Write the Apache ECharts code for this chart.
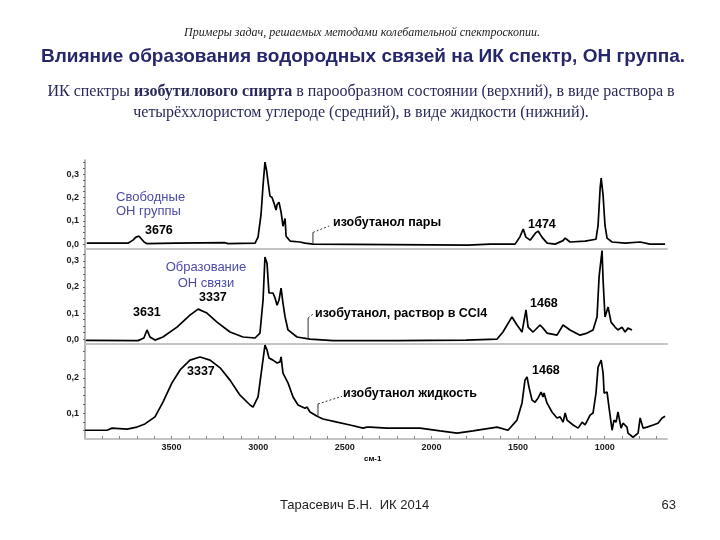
<!DOCTYPE html>
<html><head><meta charset="utf-8">
<script src="https://cdn.jsdelivr.net/npm/echarts@6/dist/echarts.min.js"></script>
<style>html,body{margin:0;padding:0;background:#fff}#c{width:720px;height:540px}</style>
</head><body><div id="c"></div>
<script>
// ---- data: [wavenumber cm-1, absorbance] ----
const vapourSpectrum = [[3990,0.004],[3752,0.004],[3723,0.017],[3706,0.03],[3688,0.034],[3677,0.026],[3659,0.009],[3642,0.002],[3480,0.004],[3192,0.006],[3174,0.002],[3018,0.004],[3001,0.03],[2984,0.125],[2972,0.253],[2961,0.352],[2952,0.318],[2943,0.266],[2932,0.206],[2920,0.2],[2909,0.176],[2897,0.146],[2891,0.17],[2880,0.18],[2868,0.137],[2857,0.077],[2845,0.11],[2839,0.034],[2816,0.013],[2759,0.009],[2730,0.004],[2684,0.0],[1789,-0.004],[1662,0.0],[1517,0.0],[1490,0.03],[1470,0.065],[1455,0.03],[1430,0.017],[1400,0.047],[1384,0.056],[1362,0.03],[1332,0.004],[1286,0.0],[1240,0.015],[1228,0.026],[1200,0.009],[1113,0.013],[1050,0.021],[1038,0.08],[1026,0.24],[1020,0.283],[1009,0.21],[998,0.08],[986,0.026],[957,0.009],[882,0.004],[795,0.009],[738,0.0],[651,0.0]];
const solutionSpectrum = [[3995,-0.005],[3694,-0.006],[3660,0.004],[3642,0.035],[3625,0.008],[3596,-0.004],[3550,0.008],[3469,0.046],[3394,0.092],[3347,0.115],[3296,0.1],[3238,0.065],[3163,0.027],[3088,0.008],[3018,0.004],[2990,0.023],[2972,0.15],[2961,0.315],[2949,0.29],[2938,0.177],[2915,0.177],[2903,0.158],[2891,0.13],[2880,0.15],[2868,0.196],[2857,0.138],[2845,0.085],[2828,0.035],[2776,0.008],[2701,0.0],[2568,-0.006],[2200,-0.006],[1800,-0.004],[1621,0.0],[1587,0.027],[1535,0.085],[1506,0.054],[1477,0.027],[1454,0.112],[1442,0.046],[1413,0.027],[1373,0.054],[1356,0.042],[1333,0.023],[1275,0.015],[1240,0.054],[1200,0.035],[1142,0.015],[1101,0.023],[1067,0.035],[1044,0.085],[1032,0.24],[1015,0.34],[1009,0.227],[998,0.085],[980,0.123],[963,0.065],[940,0.046],[923,0.035],[900,0.046],[882,0.027],[865,0.042],[842,0.035]];
const liquidSpectrum = [[4000,0.051],[3873,0.051],[3844,0.057],[3757,0.054],[3700,0.06],[3654,0.069],[3596,0.089],[3550,0.131],[3498,0.186],[3451,0.223],[3394,0.251],[3336,0.26],[3278,0.251],[3220,0.229],[3163,0.194],[3105,0.151],[3047,0.123],[3030,0.117],[3001,0.146],[2978,0.231],[2961,0.294],[2949,0.28],[2938,0.257],[2915,0.251],[2891,0.243],[2874,0.246],[2868,0.26],[2857,0.214],[2828,0.186],[2799,0.146],[2770,0.123],[2730,0.114],[2718,0.117],[2701,0.103],[2660,0.091],[2626,0.083],[2545,0.074],[2470,0.066],[2395,0.057],[2372,0.06],[2354,0.06],[2256,0.057],[2066,0.057],[2055,0.06],[1950,0.049],[1852,0.043],[1760,0.049],[1621,0.06],[1558,0.051],[1506,0.08],[1477,0.129],[1460,0.194],[1448,0.203],[1437,0.174],[1419,0.137],[1402,0.131],[1384,0.143],[1367,0.16],[1356,0.146],[1350,0.157],[1333,0.129],[1304,0.103],[1275,0.086],[1257,0.089],[1240,0.074],[1228,0.1],[1217,0.08],[1182,0.066],[1153,0.057],[1130,0.074],[1113,0.066],[1084,0.094],[1067,0.1],[1050,0.157],[1038,0.231],[1020,0.251],[1009,0.214],[1003,0.157],[986,0.16],[975,0.117],[957,0.051],[946,0.08],[934,0.074],[923,0.103],[905,0.057],[894,0.071],[871,0.06],[865,0.043],[836,0.031],[807,0.043],[795,0.086],[778,0.057],[755,0.06],[720,0.066],[692,0.071],[668,0.086],[651,0.091]];

// leader lines from the text labels to the spectra
const vapourLeader = [[2684,0.0],[2684,0.05]];
const vapourLeaderDots = [[2684,0.05],[2590,0.078]];
const solutionLeader = [[2712,0.0],[2712,0.081]];
const solutionLeaderDots = [[2712,0.081],[2680,0.098]];
const liquidLeader = [[2655,0.09],[2655,0.126]];
const liquidLeaderDots = [[2655,0.126],[2515,0.148]];

// tick labels
const wavenumberTicks = [3500,3000,2500,2000,1500,1000];
const topAbsTicks = [0,0.1,0.2,0.3];
const midAbsTicks = [0,0.1,0.2,0.3];
const lowAbsTicks = [0.1,0.2];

const minorX = [];
for (let v = 700; v <= 3900; v += 100) minorX.push(v);

const fmt = v => v.toFixed(1).replace('.', ',');
function yAxisFor(grid, min, max, labels) {
  const minor = [];
  for (let v = Math.ceil(min/0.025)*0.025; v <= max+1e-9; v += 0.025) minor.push(+v.toFixed(3));
  return {gridIndex:grid, type:'value', min:min, max:max,
    axisLine:{show:true, onZero:false, lineStyle:{color:'#9a9a9a', width:1.5}},
    axisTick:{show:true, customValues:minor, length:2, lineStyle:{color:'#666'}},
    axisLabel:{customValues:labels, formatter:fmt, fontSize:9, fontWeight:'bold', color:'#1a1a1a', margin:6, fontFamily:'Liberation Sans'},
    splitLine:{show:false}};
}
function xAxisFor(grid, showLabels) {
  return {gridIndex:grid, type:'value', inverse:true, min:640, max:4000,
    axisLine:{show:true, onZero:false, lineStyle:{color:'#c4c4c4', width:2}},
    axisTick:{show:showLabels, inside:true, customValues:minorX, length:3, lineStyle:{color:'#888'}},
    axisLabel:{show:showLabels, customValues:wavenumberTicks, formatter:v => String(v), fontSize:9, fontWeight:'bold', color:'#1a1a1a', margin:4, fontFamily:'Liberation Sans'},
    splitLine:{show:false}};
}
function spec(i, data) {
  return {type:'line', xAxisIndex:i, yAxisIndex:i, data:data, symbol:'none', silent:true,
    lineStyle:{color:'#000', width:1.7}, animation:false};
}
function leader(i, data, dotted) {
  return {type:'line', xAxisIndex:i, yAxisIndex:i, data:data, symbol:'none', silent:true, clip:false,
    lineStyle:{color:'#333', width:1, type: dotted ? [2,2] : 'solid'}, animation:false};
}
function txt(x, y, text, font, fill, align) {
  return {type:'text', x:x, y:y, silent:true,
    style:{text:text, font:font, fill:fill || '#000', textAlign:align || 'left', textVerticalAlign:'middle'}};
}

const chart = echarts.init(document.getElementById('c'));
const blue = '#4b4ba8';
const navy = '#26266a';
const lbl = 'bold 12.5px "Liberation Sans"';
chart.setOption({
  backgroundColor:'#fff',
  animation:false,
  grid:[
    {left:85, right:53, top:160, height:89},
    {left:85, right:53, top:249, height:95},
    {left:85, right:53, top:344, height:95}
  ],
  xAxis:[xAxisFor(0,false), xAxisFor(1,false), xAxisFor(2,true)],
  yAxis:[yAxisFor(0,-0.021,0.361,topAbsTicks), yAxisFor(1,-0.019,0.346,midAbsTicks), yAxisFor(2,0.026,0.297,lowAbsTicks)],
  series:[
    spec(0, vapourSpectrum), spec(1, solutionSpectrum), spec(2, liquidSpectrum),
    leader(0, vapourLeader, false), leader(0, vapourLeaderDots, true),
    leader(1, solutionLeader, false), leader(1, solutionLeaderDots, true),
    leader(2, liquidLeader, false), leader(2, liquidLeaderDots, true)
  ],
  graphic:[
    txt(362, 33, 'Примеры задач, решаемых методами колебательной спектроскопии.', 'italic 12px "Liberation Serif"', '#222', 'center'),
    txt(363, 57, 'Влияние образования водородных связей на ИК спектр, ОН группа.', 'bold 19px "Liberation Sans"', navy, 'center'),
    {type:'text', x:361, y:92, silent:true, style:{text:'ИК спектры {b|изобутилового спирта} в парообразном состоянии (верхний), в виде раствора в', font:'16px "Liberation Serif"', fill:'#2a2a5a', textAlign:'center', textVerticalAlign:'middle', rich:{b:{font:'bold 16px "Liberation Serif"', fill:'#2a2a5a'}}}},
    txt(361, 113, 'четырёххлористом углероде (средний), в виде жидкости (нижний).', '16px "Liberation Serif"', '#2a2a5a', 'center'),
    txt(116, 197, 'Свободные', '13px "Liberation Sans"', blue),
    txt(116, 211, 'ОН группы', '13px "Liberation Sans"', blue),
    txt(145, 231, '3676', lbl),
    txt(333, 223, 'изобутанол пары', lbl),
    txt(528, 225, '1474', lbl),
    txt(206, 267, 'Образование', '13px "Liberation Sans"', blue, 'center'),
    txt(206, 283, 'ОН связи', '13px "Liberation Sans"', blue, 'center'),
    txt(199, 298, '3337', lbl),
    txt(133, 313, '3631', lbl),
    txt(315, 314, 'изобутанол, раствор в CCl4', lbl),
    txt(530, 304, '1468', lbl),
    txt(187, 372, '3337', lbl),
    txt(343, 394, 'изобутанол жидкость', lbl),
    txt(532, 371, '1468', lbl),
    txt(364, 459, 'см-1', 'bold 8px "Liberation Sans"'),
    txt(280, 505, 'Тарасевич Б.Н.  ИК 2014', '13px "Liberation Sans"', '#222'),
    txt(676, 505, '63', '13px "Liberation Sans"', '#222', 'right')
  ]
});
</script></body></html>
